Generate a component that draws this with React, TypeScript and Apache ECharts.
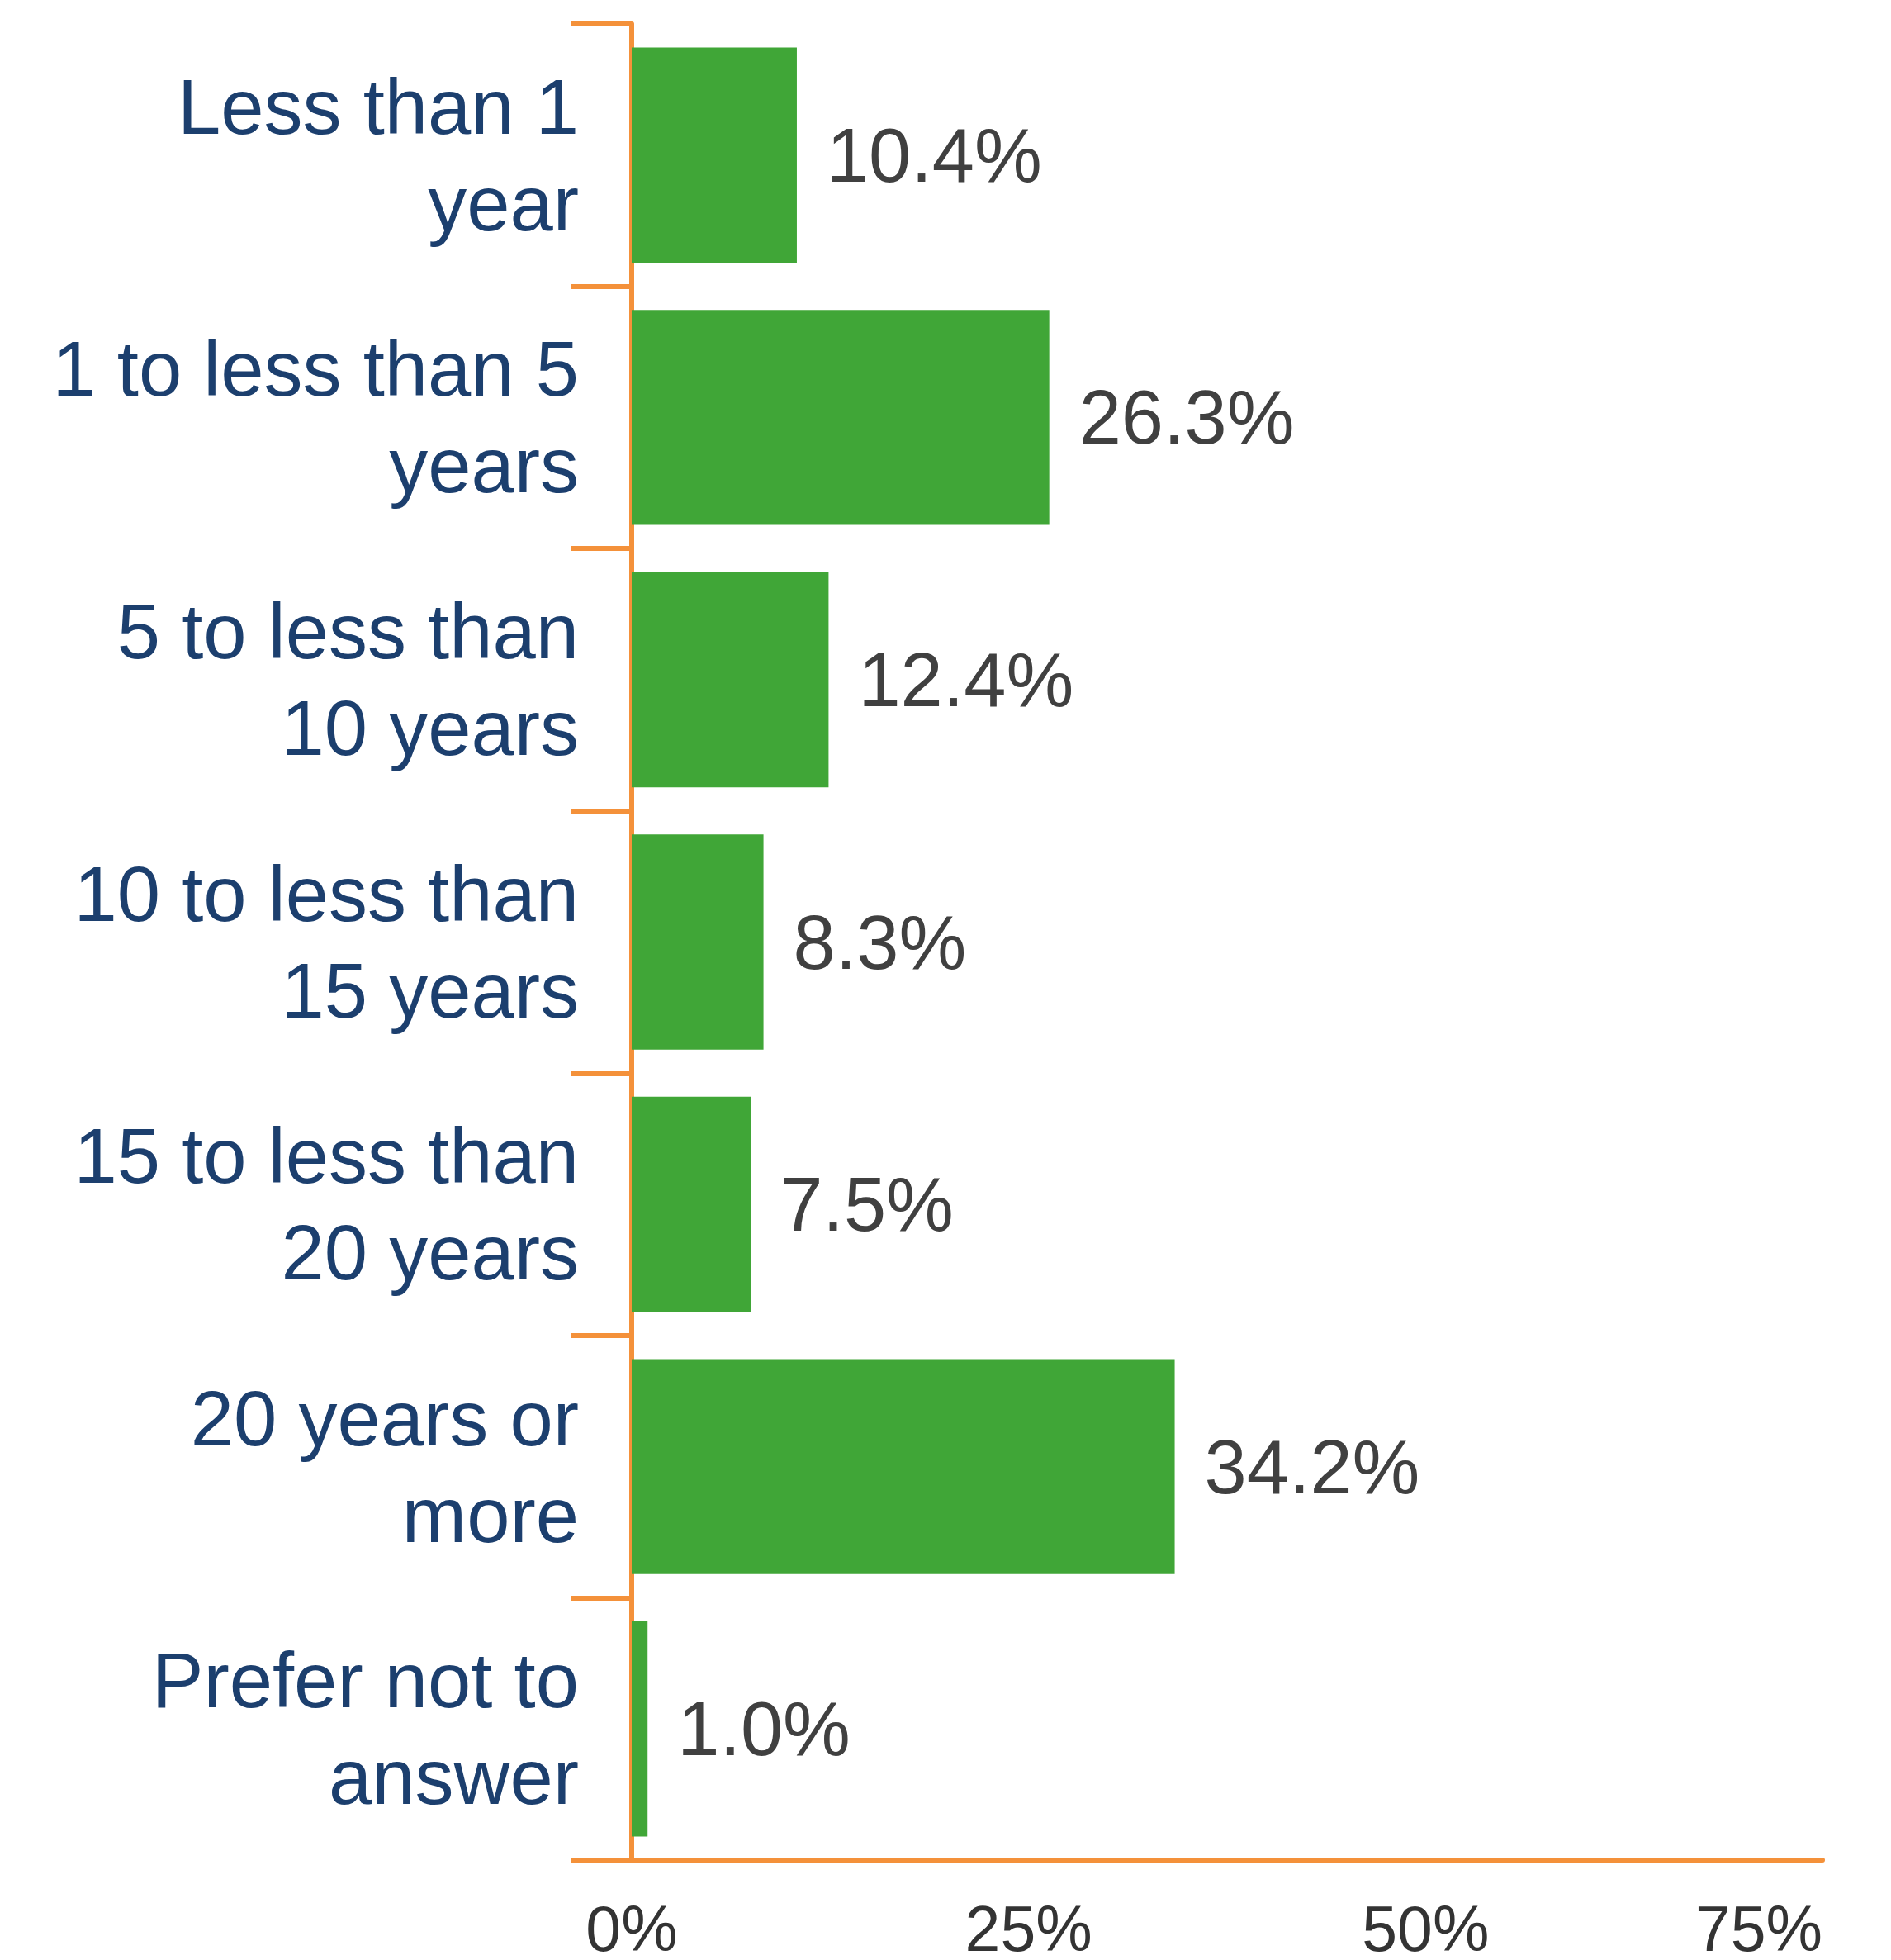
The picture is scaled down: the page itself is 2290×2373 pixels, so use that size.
import React, { useEffect, useRef } from "react";
import * as echarts from "echarts";

const categories = [
  "Less than 1\nyear",
  "1 to less than 5\nyears",
  "5 to less than\n10 years",
  "10 to less than\n15 years",
  "15 to less than\n20 years",
  "20 years or\nmore",
  "Prefer not to\nanswer",
];
const values = [10.4, 26.3, 12.4, 8.3, 7.5, 34.2, 1.0];
const xTicks = [0, 25, 50, 75];

const FONT = "'Liberation Sans', Arial, sans-serif";
const ORANGE = "#f4913a";
const GREEN = "#40a637";

export default function App() {
  const ref = useRef<HTMLDivElement>(null);
  useEffect(() => {
    if (!ref.current) return;
    const chart = echarts.init(ref.current, undefined, { renderer: "svg" });
    chart.setOption({
      animation: false,
      backgroundColor: "#ffffff",
      grid: { left: 765, right: 83, top: 29, bottom: 111, containLabel: false },
      xAxis: {
        type: "value",
        min: xTicks[0],
        max: xTicks[xTicks.length - 1],
        interval: 25,
        axisLine: { show: true, lineStyle: { color: ORANGE, width: 6 } },
        axisTick: { show: false },
        splitLine: { show: false },
        axisLabel: {
          margin: 44,
          fontSize: 77,
          fontFamily: FONT,
          color: "#333333",
          formatter: (v: number) => `${v}%`,
          alignMaxLabel: "right",
        },
      },
      yAxis: {
        type: "category",
        inverse: true,
        data: categories,
        axisLine: { show: true, lineStyle: { color: ORANGE, width: 6 } },
        axisTick: { show: true, length: 74, lineStyle: { color: ORANGE, width: 6 } },
        splitLine: { show: false },
        axisLabel: {
          margin: 64,
          fontSize: 94,
          lineHeight: 117,
          fontFamily: FONT,
          color: "#1c3f6e",
          align: "right",
          padding: [8, 0, 0, 0],
        },
      },
      series: [
        {
          type: "bar",
          data: values,
          barCategoryGap: "18%",
          itemStyle: { color: GREEN },
          label: {
            show: true,
            position: "right",
            distance: 36,
            fontSize: 92,
            fontFamily: FONT,
            color: "#404040",
            formatter: (p: any) => `${p.value.toFixed(1)}%`,
          },
        },
      ],
    });
    return () => chart.dispose();
  }, []);
  return (
    <div
      ref={ref}
      style={{ position: "fixed", left: 0, top: 0, width: 2290, height: 2373 }}
    />
  );
}
